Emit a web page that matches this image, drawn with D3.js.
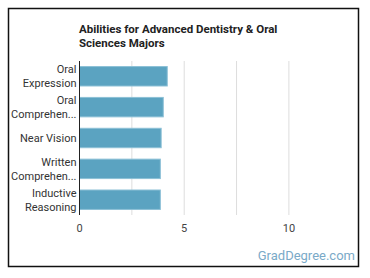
<!DOCTYPE html>
<html>
<head>
<meta charset="utf-8">
<script src="https://cdn.jsdelivr.net/npm/d3@7"></script>
<style>
  body { margin: 0; background: #fff; }
  svg { display: block; font-family: Roboto, sans-serif; }
</style>
</head>
<body>
<svg width="370" height="278"></svg>
<script>
// abilities and scores
var labels = [['Oral', 'Expression'], ['Oral', 'Comprehen...'], ['Near Vision'], ['Written', 'Comprehen...'], ['Inductive', 'Reasoning']]
var values = [4.19, 4.0, 3.9, 3.86, 3.86]
var ticks = [0, 5, 10]
var grid = [2.5, 5, 7.5, 10]

draw()

function draw() {
    var svg = d3.select('svg')

    svg.append('rect')
        .attr('x', 8.5).attr('y', 8.5)
        .attr('width', 350).attr('height', 258)
        .attr('fill', '#fff')
        .attr('stroke', '#111')
        .attr('stroke-width', 1.5)

    var plotLeft = 79.5, plotTop = 61, plotBottom = 215
    var x = d3.scaleLinear().domain([0, 12.5]).range([plotLeft, plotLeft + 12.5 * 20.94])
    var y = d3.scaleBand().domain(d3.range(values.length)).range([plotTop, plotBottom]).paddingInner(0.37).paddingOuter(0.18)

    svg.append('text')
        .attr('x', 79).attr('y', 33)
        .attr('font-size', 11.5).attr('font-weight', 'bold').attr('fill', '#222')
        .selectAll('tspan')
        .data(['Abilities for Advanced Dentistry & Oral', 'Sciences Majors'])
        .join('tspan')
        .attr('x', 79)
        .attr('dy', (d, i) => i ? 14 : 0)
        .text(d => d)

    svg.append('g')
        .selectAll('line')
        .data(grid)
        .join('line')
        .attr('x1', d => x(d)).attr('x2', d => x(d))
        .attr('y1', plotTop).attr('y2', plotBottom)
        .attr('stroke', '#ddd')
        .attr('stroke-width', 1)

    svg.append('g')
        .selectAll('rect')
        .data(values)
        .join('rect')
        .attr('x', x(0))
        .attr('y', (d, i) => y(i))
        .attr('width', d => x(d) - x(0))
        .attr('height', y.bandwidth())
        .attr('fill', '#5ba3c1')
        .attr('stroke', '#8cc0d6')
        .attr('stroke-width', 1)

    svg.append('line')
        .attr('x1', plotLeft).attr('x2', plotLeft)
        .attr('y1', plotTop).attr('y2', plotBottom)
        .attr('stroke', '#222').attr('stroke-width', 1)

    var lab = svg.append('g')
        .attr('font-size', 11).attr('fill', '#333').attr('text-anchor', 'end')
    labels.forEach(function (lines, i) {
        var cy = y(i) + y.bandwidth() / 2
        var t = lab.append('text').attr('x', plotLeft - 3)
        lines.forEach(function (s, j) {
            t.append('tspan')
                .attr('x', plotLeft - 3)
                .attr('y', cy + 4 + (j - (lines.length - 1) / 2) * 14)
                .text(s)
        })
    })

    svg.append('g')
        .selectAll('text')
        .data(ticks)
        .join('text')
        .attr('x', d => x(d))
        .attr('y', 232)
        .attr('text-anchor', 'middle')
        .attr('font-size', 11)
        .attr('fill', '#444')
        .text(d => d)

    svg.append('text')
        .attr('x', 355).attr('y', 260)
        .attr('text-anchor', 'end')
        .attr('font-size', 13)
        .attr('fill', '#7aaac8')
        .text('GradDegree.com')
}
</script>
</body>
</html>
